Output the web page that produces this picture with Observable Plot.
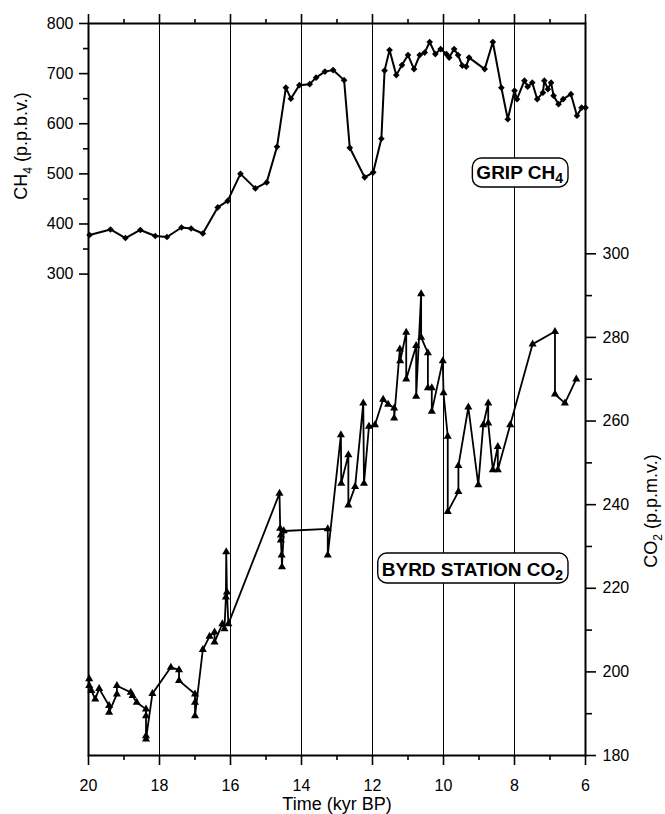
<!DOCTYPE html>
<html><head><meta charset="utf-8">
<script src="https://cdn.jsdelivr.net/npm/d3@7"></script>
<script src="https://cdn.jsdelivr.net/npm/@observablehq/plot@0.6"></script>
<style>body{margin:0;background:#fff;} #chart{width:665px;height:814px;}</style>
</head><body><div id="chart"></div>
<script>
// GRIP CH4 (kyr BP, p.p.b.v.)
const ch4Age = [19.97,19.38,18.96,18.54,18.12,17.79,17.38,17.11,16.78,16.36,16.08,15.72,15.30,14.98,14.69,14.44,14.30,14.06,13.77,13.59,13.34,13.11,12.80,12.64,12.22,11.98,11.75,11.66,11.52,11.33,11.17,11.00,10.83,10.67,10.53,10.39,10.23,10.08,9.92,9.84,9.70,9.59,9.47,9.36,9.28,8.84,8.61,8.37,8.19,8.00,7.93,7.72,7.63,7.50,7.36,7.20,7.16,7.06,6.97,6.90,6.76,6.63,6.41,6.24,6.11,6.00];
const ch4Value = [378,389,372,388,376,374,393,391,381,433,446,500,471,483,554,672,650,677,679,692,704,707,687,552,493,503,570,706,747,697,717,737,709,737,742,763,739,749,739,732,749,737,716,714,732,709,763,672,609,666,649,686,674,682,649,662,686,669,682,656,639,649,659,616,632,632];

// Byrd Station CO2 (kyr BP, p.p.m.v.)
const co2Age = [19.98,19.98,19.92,19.81,19.70,19.42,19.42,19.20,19.20,18.81,18.76,18.64,18.38,18.38,18.38,18.38,18.20,17.68,17.45,17.45,17.00,17.00,17.00,16.78,16.59,16.45,16.45,16.23,16.17,16.13,16.12,16.10,16.06,14.62,14.60,14.58,14.58,14.56,14.55,14.50,13.26,13.26,12.89,12.88,12.68,12.68,12.49,12.26,12.24,12.10,11.93,11.70,11.56,11.39,11.39,11.23,11.22,11.05,11.05,10.77,10.77,10.63,10.63,10.44,10.44,10.33,10.33,10.02,10.00,9.88,9.88,9.58,9.58,9.30,9.02,8.88,8.74,8.74,8.61,8.47,8.47,8.12,7.49,6.86,6.86,6.58,6.26];
const co2Value = [198.3,196.7,195.5,193.5,196.0,191.9,190.3,194.7,196.7,195.1,194.3,192.7,191.1,189.5,184.7,183.9,194.8,201.1,200.5,197.9,194.7,192.7,189.5,205.3,208.5,209.5,207.1,211.5,210.3,217.9,228.7,219.1,211.5,242.7,234.3,232.7,231.5,227.9,225.1,233.7,234.2,227.9,256.7,245.1,251.9,239.9,244.3,264.3,245.1,258.7,259.1,265.2,264.0,263.1,260.7,277.2,274.4,281.2,270.0,278.0,265.9,290.4,280.0,276.3,267.9,267.9,262.3,274.4,266.7,256.3,238.3,243.1,249.3,263.3,244.7,259.1,264.3,259.5,248.3,253.9,248.3,259.1,278.4,281.4,266.4,264.3,270.0];

// ticks
const xMajorTicks = [20,18,16,14,12,10,8,6];
const xMinorTicks = [19,17,15,13,11,9,7];
const gridAges = [18,16,14,12,10,8];
const ch4MajorTicks = [300,400,500,600,700,800];
const ch4MinorTicks = [350,450,550,650,750];
const co2MajorTicks = [180,200,220,240,260,280,300];
const co2MinorTicks = [190,210,230,250,270,290];

// CO2 axis expressed in the CH4 (left) y scale units
const CO2_AT_300 = 340.5, CO2_SLOPE = 8.342;
const co2ToY = c => CO2_AT_300 + (c - 300) * CO2_SLOPE;
const yToCo2 = y => (y - CO2_AT_300) / CO2_SLOPE + 300;

const ch4 = ch4Age.map((a, i) => ({age: a, value: ch4Value[i]}));
const co2 = co2Age.map((a, i) => ({age: a, value: co2Value[i], y: co2ToY(co2Value[i])}));

const FONT = '"Liberation Sans", Arial, Helvetica, sans-serif';

const plot = Plot.plot({
  width: 665, height: 814,
  marginLeft: 88, marginRight: 80, marginTop: 23, marginBottom: 59,
  style: {fontFamily: FONT, fontSize: "16px", color: "#000", background: "#fff", overflow: "visible"},
  x: {domain: [20, 6], label: null},
  y: {domain: [-660.5, 800], label: null},
  marks: [
    Plot.ruleX(gridAges, {stroke: "#000", strokeWidth: 1}),
    Plot.frame({stroke: "#000", strokeWidth: 2}),
    Plot.axisX(xMajorTicks, {anchor: "bottom", tickSize: 10, tickPadding: 14, strokeWidth: 1.6}),
    Plot.axisX(xMinorTicks, {anchor: "bottom", tickSize: 5, strokeWidth: 1.6, fill: "none"}),
    Plot.axisX(xMajorTicks, {anchor: "top", tickSize: 10, strokeWidth: 1.6, fill: "none"}),
    Plot.axisX(xMinorTicks, {anchor: "top", tickSize: 5, strokeWidth: 1.6, fill: "none"}),
    Plot.axisY(ch4MajorTicks, {anchor: "left", tickSize: 9, tickPadding: 6, strokeWidth: 1.6}),
    Plot.axisY(ch4MinorTicks, {anchor: "left", tickSize: 5, strokeWidth: 1.6, fill: "none"}),
    Plot.axisY(co2MajorTicks.map(co2ToY), {anchor: "right", tickSize: 10, tickPadding: 7, strokeWidth: 1.6,
      tickFormat: d => String(Math.round(yToCo2(d)))}),
    Plot.axisY(co2MinorTicks.map(co2ToY), {anchor: "right", tickSize: 6, strokeWidth: 1.6, fill: "none"}),
    Plot.line(ch4, {x: "age", y: "value", stroke: "#000", strokeWidth: 2}),
    Plot.dot(ch4, {x: "age", y: "value", symbol: "diamond2", r: 3, fill: "#000", stroke: "none"}),
    Plot.line(co2, {x: "age", y: "y", stroke: "#000", strokeWidth: 1.8}),
    Plot.dot(co2, {x: "age", y: "y", symbol: "triangle", r: 3, fill: "#000", stroke: "none"})
  ]
});

document.getElementById("chart").appendChild(plot);
const svg = d3.select(plot);

function richText(sel, parts, subSize, shift) {
  parts.forEach(([t, sub]) => {
    const ts = sel.append("tspan").text(t);
    if (sub) ts.attr("font-size", subSize).attr("dy", shift);
    else if (sel.property("_wasSub")) ts.attr("dy", -shift);
    sel.property("_wasSub", !!sub);
  });
}

// axis titles
const leftT = svg.append("text")
  .attr("transform", "translate(21,146) rotate(-90)")
  .attr("text-anchor", "middle").attr("dy", "0.35em")
  .attr("font-family", FONT).attr("font-size", 18).attr("fill", "#000");
richText(leftT, [["CH"], ["4", true], [" (p.p.b.v.)"]], 12, 5);

const rightT = svg.append("text")
  .attr("transform", "translate(651,511) rotate(-90)")
  .attr("text-anchor", "middle").attr("dy", "0.35em")
  .attr("font-family", FONT).attr("font-size", 18).attr("fill", "#000");
richText(rightT, [["CO"], ["2", true], [" (p.p.m.v.)"]], 12, 5);

svg.append("text")
  .attr("x", 337).attr("y", 810)
  .attr("text-anchor", "middle")
  .attr("font-family", FONT).attr("font-size", 18).attr("fill", "#000")
  .text("Time (kyr BP)");

// series labels in rounded boxes
function boxedLabel(parts, xRight, baseline, y0, y1) {
  const g = svg.append("g");
  const rect = g.append("rect");
  const t = g.append("text")
    .attr("x", xRight - 5).attr("y", baseline)
    .attr("text-anchor", "end")
    .attr("font-family", FONT).attr("font-size", 19).attr("font-weight", "bold").attr("fill", "#000");
  richText(t, parts, 14, 4);
  const bb = t.node().getBBox();
  rect.attr("x", bb.x - 4).attr("y", y0).attr("width", xRight - bb.x + 4).attr("height", y1 - y0)
    .attr("rx", 9).attr("ry", 9).attr("fill", "#fff").attr("stroke", "#000").attr("stroke-width", 1.4);
}
boxedLabel([["GRIP CH"], ["4", true]], 568, 179, 158, 187);
boxedLabel([["BYRD STATION CO"], ["2", true]], 568, 576, 553, 583);
</script>
</body></html>
